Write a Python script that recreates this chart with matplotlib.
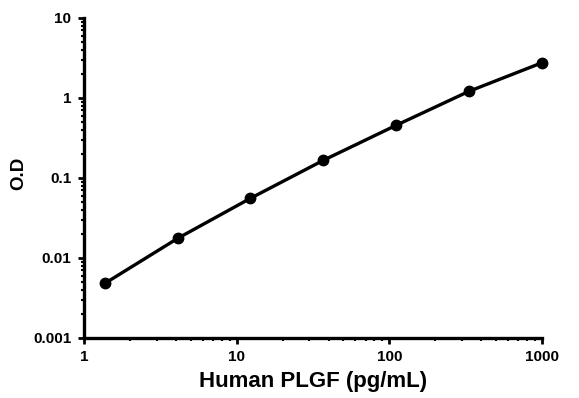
import numpy as np
import matplotlib
matplotlib.use('Agg')
import matplotlib.pyplot as plt
from matplotlib.ticker import FixedLocator, FixedFormatter, LogLocator, NullFormatter

plt.rcParams['font.family'] = ['Liberation Sans', 'DejaVu Sans']
plt.rcParams['font.weight'] = 'bold'

conc = [1.37, 4.12, 12.3, 37.0, 111.0, 333.0, 1000.0]
od = [0.0048, 0.0176, 0.0555, 0.166, 0.455, 1.21, 2.75]

x_ticks = [1, 10, 100, 1000]
x_labels = ['1', '10', '100', '1000']
y_ticks = [0.001, 0.01, 0.1, 1, 10]
y_labels = ['0.001', '0.01', '0.1', '1', '10']

fig = plt.figure(figsize=(5.79, 3.98), dpi=100)
ax = fig.add_axes([0.145, 0.151, 0.791, 0.804])

ax.plot(conc, od, color='black', lw=2.4, marker='o', markersize=7.5, clip_on=False)
ax.set_xscale('log')
ax.set_yscale('log')
ax.set_xlim(1, 1000)
ax.set_ylim(0.001, 10)

ax.xaxis.set_major_locator(FixedLocator(x_ticks))
ax.xaxis.set_major_formatter(FixedFormatter(x_labels))
ax.yaxis.set_major_locator(FixedLocator(y_ticks))
ax.yaxis.set_major_formatter(FixedFormatter(y_labels))
ax.xaxis.set_minor_locator(LogLocator(base=10, subs=np.arange(2, 10)))
ax.yaxis.set_minor_locator(LogLocator(base=10, subs=np.arange(2, 10)))
ax.xaxis.set_minor_formatter(NullFormatter())
ax.yaxis.set_minor_formatter(NullFormatter())

for s in ['top', 'right']:
    ax.spines[s].set_visible(False)
for s in ['left', 'bottom']:
    ax.spines[s].set_linewidth(2.4)

ax.tick_params(which='major', length=4, width=2, labelsize=11, pad=5)
ax.tick_params(which='minor', length=2.5, width=1.5)

ax.set_xlabel('Human PLGF (pg/mL)', fontsize=16, fontweight='bold', labelpad=5)
fig.text(0.033, 0.565, 'O.D', rotation=90, ha='center', va='center',
         fontsize=13.5, fontweight='bold')

fig.savefig('out.png', dpi=100)
